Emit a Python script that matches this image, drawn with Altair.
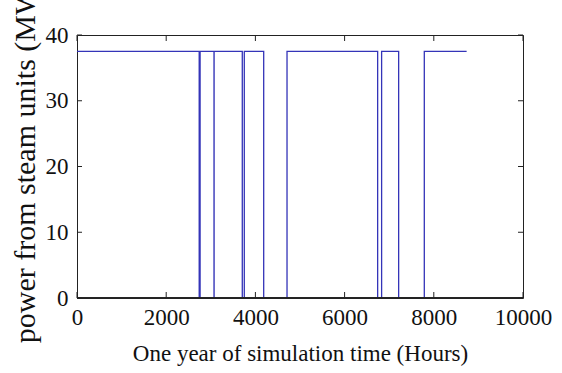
import altair as alt
import pandas as pd

# Transition points of the step series (hours, MW)
hours = [0, 2740, 2760, 3072, 3074, 3706, 3751, 4186, 4709, 6741, 6830, 7212, 7787, 8736]
power = [37.5, 0, 37.5, 0, 37.5, 0, 37.5, 0, 37.5, 0, 37.5, 0, 37.5, 37.5]

x_ticks = [0, 2000, 4000, 6000, 8000, 10000]
y_ticks = [0, 10, 20, 30, 40]

W, H = 446, 263
FONT = "Liberation Serif"
LINE_COLOR = "#3434b8"
FRAME = "#222222"

df = pd.DataFrame({"hours": hours, "power": power})
xt = pd.DataFrame({"hours": x_ticks})
yt = pd.DataFrame({"power": y_ticks})

xscale = alt.Scale(domain=[0, 10000], nice=False, zero=False)
yscale = alt.Scale(domain=[0, 40], nice=False, zero=False)

line = alt.Chart(df).mark_line(
    interpolate="step-after", color=LINE_COLOR, strokeWidth=1.3, clip=True
).encode(
    x=alt.X(
        "hours:Q",
        scale=xscale,
        axis=alt.Axis(
            values=x_ticks,
            format="d",
            labelFont=FONT,
            labelFontSize=23,
            labelColor="#111",
            labelPadding=8,
            labelFlush=False,
            title="One year of simulation time (Hours)",
            titleFont=FONT,
            titleFontSize=23,
            titleFontWeight="normal",
            titleColor="#111",
            titleBaseline="alphabetic",
            titleY=62,
        ),
    ),
    y=alt.Y(
        "power:Q",
        scale=yscale,
        axis=alt.Axis(
            values=y_ticks,
            format="d",
            labelFont=FONT,
            labelFontSize=23,
            labelColor="#111",
            labelPadding=9,
            labelFlush=False,
            title="power from steam units (MW)",
            titleFont=FONT,
            titleFontSize=30,
            titleFontWeight="normal",
            titleColor="#111",
            titleAlign="center",
            titleBaseline="alphabetic",
            titleX=-43,
            titleY=124.5,
        ),
    ),
)

tick_bottom = alt.Chart(xt).mark_rule(color=FRAME, strokeWidth=1).encode(
    x=alt.X("hours:Q", scale=xscale), y=alt.value(H), y2=alt.value(H - 6)
)
tick_top = alt.Chart(xt).mark_rule(color=FRAME, strokeWidth=1).encode(
    x=alt.X("hours:Q", scale=xscale), y=alt.value(0), y2=alt.value(6)
)
tick_left = alt.Chart(yt).mark_rule(color=FRAME, strokeWidth=1).encode(
    y=alt.Y("power:Q", scale=yscale), x=alt.value(0), x2=alt.value(5)
)
tick_right = alt.Chart(yt).mark_rule(color=FRAME, strokeWidth=1).encode(
    y=alt.Y("power:Q", scale=yscale), x=alt.value(W), x2=alt.value(W - 5)
)
bottom_edge = alt.Chart(xt).mark_rule(color=FRAME, strokeWidth=1.2).encode(
    x=alt.value(0), x2=alt.value(W), y=alt.value(H)
)

chart = (
    alt.layer(line, tick_bottom, tick_top, tick_left, tick_right, bottom_edge)
    .properties(
        width=W,
        height=H,
        autosize=alt.AutoSizeParams(type="none"),
        padding={"left": 77, "top": 35, "right": 39, "bottom": 75},
        background="white",
    )
    .configure_view(stroke=FRAME, strokeWidth=1)
    .configure_axis(grid=False, domain=False, ticks=False)
)

chart.save("out.html", embed_options={"renderer": "svg", "actions": False})
